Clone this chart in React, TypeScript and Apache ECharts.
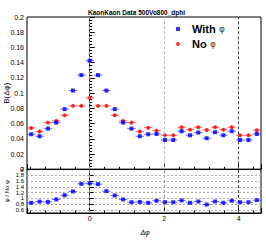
import React, { useEffect, useRef } from "react";
import * as echarts from "echarts";

// Bin centres (Δφ)
const dphi = [
  -1.571, -1.346, -1.122, -0.898, -0.673, -0.449, -0.224, 0, 0.224, 0.449,
  0.673, 0.898, 1.122, 1.346, 1.571, 1.795, 2.02, 2.244, 2.468, 2.693, 2.917,
  3.142, 3.366, 3.59, 3.815, 4.039, 4.264, 4.488,
];
const binHalfWidth = 0.112;

const withPhi = [
  0.046, 0.0434, 0.0534, 0.0613, 0.079, 0.1034, 0.1237, 0.1425, 0.1237, 0.1034,
  0.079, 0.0613, 0.0534, 0.0434, 0.046, 0.0464, 0.0385, 0.0385, 0.05, 0.0447,
  0.0482, 0.0408, 0.0487, 0.0447, 0.05, 0.0385, 0.0385, 0.0464,
];
const noPhi = [
  0.0543, 0.0495, 0.0613, 0.0636, 0.071, 0.0833, 0.0833, 0.0938, 0.0833, 0.0833,
  0.071, 0.0636, 0.0613, 0.0495, 0.0547, 0.0508, 0.0447, 0.0447, 0.0553, 0.0521,
  0.0553, 0.0517, 0.0553, 0.0521, 0.0553, 0.0447, 0.0447, 0.0513,
];
const withPhiErr = [
  0.0018, 0.0018, 0.0018, 0.0018, 0.0018, 0.0018, 0.0018, 0.0018, 0.0018, 0.0018,
  0.0018, 0.0018, 0.0018, 0.0018, 0.0018, 0.0018, 0.0018, 0.0018, 0.0018, 0.0018,
  0.0018, 0.0018, 0.0018, 0.0018, 0.0018, 0.0018, 0.0018, 0.0018,
];
const noPhiErr = [
  0.0015, 0.0015, 0.0015, 0.0015, 0.0015, 0.0015, 0.0015, 0.0015, 0.0015, 0.0015,
  0.0015, 0.0015, 0.0015, 0.0015, 0.0015, 0.0015, 0.0015, 0.0015, 0.0015, 0.0015,
  0.0015, 0.0015, 0.0015, 0.0015, 0.0015, 0.0015, 0.0015, 0.0015,
];
const ratio = [
  0.85, 0.89, 0.88, 0.965, 1.11, 1.24, 1.5, 1.52, 1.49, 1.25, 1.1, 0.965, 0.87,
  0.88, 0.85, 0.92, 0.87, 0.87, 0.93, 0.85, 0.895, 0.79, 0.895, 0.85, 0.92, 0.87,
  0.87, 0.94,
];
const ratioErr = [
  0.03, 0.03, 0.03, 0.03, 0.03, 0.03, 0.03, 0.03, 0.03, 0.03, 0.03, 0.03, 0.03,
  0.03, 0.03, 0.03, 0.03, 0.03, 0.03, 0.03, 0.03, 0.03, 0.03, 0.03, 0.03, 0.03,
  0.03, 0.03,
];
const vLines = [0, 2, 4];

const FONT = "Liberation Sans";
const X_MIN = -1.683;
const X_MAX = 4.6;

function errorBars(
  name: string,
  xi: number,
  yi: number,
  ys: number[],
  errs: number[],
  color: string
) {
  return {
    type: "custom",
    name: name,
    xAxisIndex: xi,
    yAxisIndex: yi,
    silent: true,
    z: 3,
    data: dphi.map((x, i) => [x, ys[i], binHalfWidth, errs[i]]),
    encode: { x: 0, y: 1 },
    renderItem: (params: any, api: any) => {
      const x = api.value(0);
      const y = api.value(1);
      const ex = api.value(2);
      const ey = api.value(3);
      const p0 = api.coord([x - ex, y]);
      const p1 = api.coord([x + ex, y]);
      const q0 = api.coord([x, y - ey]);
      const q1 = api.coord([x, y + ey]);
      return {
        type: "group",
        children: [
          {
            type: "line",
            shape: { x1: p0[0], y1: p0[1], x2: p1[0], y2: p1[1] },
            style: { stroke: color, lineWidth: 1, opacity: 0.6 },
          },
          {
            type: "line",
            shape: { x1: q0[0], y1: q0[1], x2: q1[0], y2: q1[1] },
            style: { stroke: color, lineWidth: 1, opacity: 0.6 },
          },
        ],
      };
    },
  };
}

function xAxisDef(gridIndex: number, showLabels: boolean) {
  return {
    type: "value",
    gridIndex,
    min: X_MIN,
    max: X_MAX,
    splitNumber: 3,
    axisLine: { show: true, onZero: false, lineStyle: { color: "#000", width: 1 } },
    axisTick: { show: true, inside: true, length: 5, lineStyle: { color: "#000" } },
    minorTick: { show: true, splitNumber: 5, length: 2.5, lineStyle: { color: "#000" } },
    splitLine: { show: false },
    axisLabel: {
      show: showLabels,
      fontSize: 7,
      fontFamily: FONT,
      color: "#000",
      margin: 2,
      showMinLabel: false,
      showMaxLabel: false,
      formatter: (v: number) =>
        Math.abs(v - Math.round(v)) < 1e-6 ? String(Math.round(v)) : "",
    },
  };
}

function vLineSeries(xi: number, yi: number, colors: string[]) {
  return {
    type: "line",
    xAxisIndex: xi,
    yAxisIndex: yi,
    data: [],
    silent: true,
    markLine: {
      silent: true,
      symbol: "none",
      animation: false,
      label: { show: false },
      data: vLines.map((v, i) => ({
        xAxis: v,
        lineStyle: { color: colors[i], type: [3, 2], width: 1 },
      })),
    },
  };
}

export default function App() {
  const ref = useRef<HTMLDivElement>(null);
  useEffect(() => {
    if (!ref.current) return;
    const chart = echarts.init(ref.current, null, { renderer: "svg" });
    const option: any = {
      animation: false,
      backgroundColor: "#fff",
      textStyle: { fontFamily: FONT },
      title: {
        text: "KaonKaon Data 500Vo800_dphi",
        left: 83,
        top: 4,
        textStyle: { fontSize: 6.5, fontWeight: "bold", fontFamily: FONT, color: "#000" },
      },
      legend: {
        orient: "vertical",
        left: 171,
        top: 18,
        itemWidth: 4,
        itemHeight: 4,
        itemGap: 3,
        selectedMode: false,
        data: ["With φ", "No φ"],
        formatter: (name: string) => {
          const parts = name.split(" ");
          return "{b|" + parts[0] + "} {p|" + parts[1] + "}";
        },
        textStyle: {
          rich: {
            b: {
              fontSize: 11,
              fontWeight: "bold",
              fontFamily: FONT,
              color: "#000",
              padding: [0, 0, 0, 7],
              lineHeight: 14,
            },
            p: { fontSize: 9, fontFamily: "DejaVu Sans", color: "#444", lineHeight: 14 },
          },
        },
      },
      grid: [
        {
          left: 27,
          top: 17,
          width: 234,
          height: 152.3,
          containLabel: false,
          outerBoundsMode: "none",
          show: true,
          borderColor: "#000",
          borderWidth: 1,
          backgroundColor: "transparent",
        },
        {
          left: 27,
          top: 169.3,
          width: 234,
          height: 43.7,
          containLabel: false,
          outerBoundsMode: "none",
          show: true,
          borderColor: "#000",
          borderWidth: 1,
          backgroundColor: "transparent",
        },
      ],
      xAxis: [xAxisDef(0, false), xAxisDef(1, true)],
      yAxis: [
        {
          type: "value",
          gridIndex: 0,
          min: 0,
          max: 0.2,
          interval: 0.02,
          name: "B(Δφ)",
          nameLocation: "middle",
          nameRotate: 90,
          nameGap: 17,
          nameMoveOverlap: false,
          nameTextStyle: { fontSize: 8, fontFamily: FONT, color: "#000" },
          axisLine: { show: true, lineStyle: { color: "#000" } },
          axisTick: { show: true, inside: true, length: 5, lineStyle: { color: "#000" } },
          minorTick: { show: true, splitNumber: 5, length: 2.5, lineStyle: { color: "#000" } },
          splitLine: { show: false },
          axisLabel: {
            fontSize: 7,
            fontFamily: FONT,
            color: "#000",
            margin: 3,
            formatter: (v: number) => String(Number(v.toFixed(2))),
          },
        },
        {
          type: "value",
          gridIndex: 1,
          min: 0.5,
          max: 2,
          splitNumber: 7,
          name: "φ / No φ",
          nameLocation: "middle",
          nameRotate: 90,
          nameGap: 17,
          nameMoveOverlap: false,
          nameTextStyle: { fontSize: 6, fontFamily: FONT, color: "#000" },
          axisLine: { show: true, lineStyle: { color: "#000" } },
          axisTick: { show: true, inside: true, length: 4, lineStyle: { color: "#000" } },
          minorTick: { show: false },
          splitLine: {
            show: true,
            lineStyle: { color: "#aaa", type: [2, 2], width: 1 },
          },
          axisLabel: {
            fontSize: 6,
            fontFamily: FONT,
            color: "#000",
            margin: 3,
            showMinLabel: false,
            formatter: (v: number) => {
              const r = Math.round(v * 5) / 5;
              return Math.abs(v - r) < 1e-6 ? String(Number(r.toFixed(1))) : "";
            },
          },
        },
      ],
      graphic: [
        {
          type: "text",
          x: 145,
          y: 232,
          style: {
            text: "Δφ",
            fontSize: 7,
            fontFamily: FONT,
            fontStyle: "italic",
            fill: "#000",
            align: "center",
            verticalAlign: "middle",
          },
        },
      ],
      series: [
        vLineSeries(0, 0, ["#888", "#bbb", "#444"]),
        vLineSeries(1, 1, ["#888", "#999", "#444"]),
        errorBars("errNo", 0, 0, noPhi, noPhiErr, "#ff0000"),
        errorBars("errWith", 0, 0, withPhi, withPhiErr, "#0000ff"),
        errorBars("errRatio", 1, 1, ratio, ratioErr, "#0000ff"),
        {
          type: "scatter",
          name: "No φ",
          xAxisIndex: 0,
          yAxisIndex: 0,
          symbol: "circle",
          symbolSize: 4,
          itemStyle: { color: "#ff0000" },
          z: 4,
          data: dphi.map((x, i) => [x, noPhi[i]]),
        },
        {
          type: "scatter",
          name: "With φ",
          xAxisIndex: 0,
          yAxisIndex: 0,
          symbol: "rect",
          symbolSize: 4,
          itemStyle: { color: "#0000ff" },
          z: 5,
          data: dphi.map((x, i) => [x, withPhi[i]]),
        },
        {
          type: "scatter",
          name: "ratio",
          xAxisIndex: 1,
          yAxisIndex: 1,
          symbol: "rect",
          symbolSize: 4,
          itemStyle: { color: "#0000ff" },
          z: 5,
          data: dphi.map((x, i) => [x, ratio[i]]),
        },
      ],
    };
    chart.setOption(option);
    return () => chart.dispose();
  }, []);
  return (
    <div
      ref={ref}
      style={{ position: "absolute", left: 0, top: 0, width: 266, height: 242 }}
    />
  );
}
